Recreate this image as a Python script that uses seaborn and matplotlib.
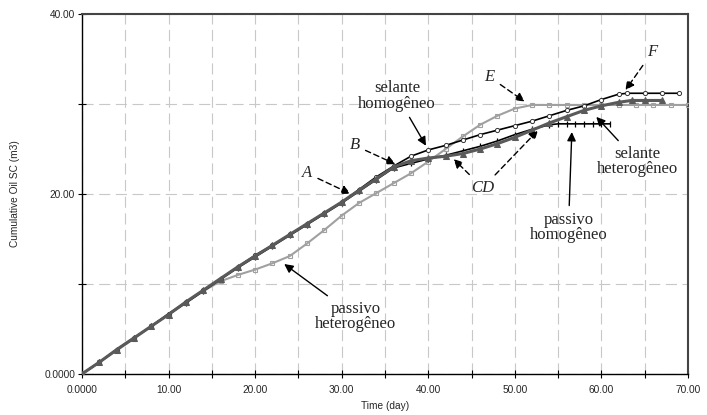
import matplotlib
matplotlib.use("Agg")
import matplotlib.pyplot as plt
import seaborn as sns

# values (day, cumulative oil m3)
days_f = [0, 2, 4, 6, 8, 10, 12, 14, 16, 18, 20, 22, 24, 26, 28, 30, 32, 34, 36, 38,
          40, 42, 44, 46, 48, 50, 52, 54, 56, 58, 60, 62, 63, 65, 67, 69]
oil_f = [0, 1.3, 2.7, 4.0, 5.3, 6.7, 8.0, 9.3, 10.6, 11.9, 13.2, 14.3, 15.5, 16.7, 17.9, 19.1,
         20.5, 21.9, 23.1, 24.2, 24.9, 25.4, 26.0, 26.6, 27.1, 27.6, 28.1, 28.7, 29.3, 29.8,
         30.5, 31.1, 31.2, 31.2, 31.2, 31.2]

days_tri = [0, 2, 4, 6, 8, 10, 12, 14, 16, 18, 20, 22, 24, 26, 28, 30, 32, 34, 36, 38,
            40, 42, 44, 46, 48, 50, 52, 54, 56, 58, 60, 62, 63.5, 65, 67]
oil_tri = [0, 1.3, 2.7, 4.0, 5.3, 6.6, 8.0, 9.3, 10.6, 11.9, 13.1, 14.3, 15.5, 16.7, 17.9, 19.1,
           20.4, 21.7, 23.0, 23.7, 24.0, 24.2, 24.5, 25.0, 25.6, 26.3, 27.1, 27.9, 28.6, 29.3,
           29.8, 30.2, 30.4, 30.4, 30.4]

days_tick = [0, 2, 4, 6, 8, 10, 12, 14, 16, 18, 20, 22, 24, 26, 28, 30, 32, 34, 36, 38,
             40, 42, 44, 46, 48, 50, 52, 54, 55, 56, 57, 58, 59, 60, 61]
oil_tick = [0, 1.3, 2.7, 4.0, 5.3, 6.6, 7.9, 9.2, 10.5, 11.8, 13.0, 14.2, 15.4, 16.6, 17.8, 19.0,
            20.3, 21.6, 22.9, 23.4, 23.9, 24.3, 24.8, 25.3, 25.9, 26.6, 27.2, 27.7, 27.8, 27.8,
            27.8, 27.8, 27.8, 27.8, 27.8]

days_sq = [0, 2, 4, 6, 8, 10, 12, 14, 16, 18, 20, 22, 24, 26, 28, 30, 32, 34, 36, 38,
           40, 42, 44, 46, 48, 50, 52, 54, 56, 58, 60, 62, 64, 66, 68, 70]
oil_sq = [0, 1.3, 2.6, 3.9, 5.3, 6.6, 7.9, 9.2, 10.3, 11.0, 11.6, 12.3, 13.1, 14.5, 16.0, 17.6,
          19.0, 20.1, 21.2, 22.3, 23.6, 25.0, 26.4, 27.7, 28.7, 29.5, 29.9, 29.9, 29.9, 29.9,
          29.9, 29.9, 29.9, 29.9, 29.9, 29.9]

x_ticks = [0, 10, 20, 30, 40, 50, 60, 70]
x_labels = ["0.0000", "10.00", "20.00", "30.00", "40.00", "50.00", "60.00", "70.00"]
y_ticks = [0, 20, 40]
y_labels = ["0.0000", "20.00", "40.00"]

sns.set_theme(style="white")
plt.rcParams["font.family"] = ["Liberation Sans", "DejaVu Sans"]

fig = plt.figure(figsize=(7.07, 4.15), dpi=100)
ax = fig.add_axes([0.116, 0.099, 0.857, 0.867])

# curves
sns.lineplot(x=days_sq, y=oil_sq, ax=ax, color="#a0a0a0", lw=1.5, marker="s", markersize=3,
             markerfacecolor="none", markeredgecolor="#a0a0a0", markeredgewidth=0.8, zorder=3)
sns.lineplot(x=days_tick, y=oil_tick, ax=ax, color="black", lw=1.2, marker="|", markersize=5,
             markeredgecolor="black", markeredgewidth=0.9, zorder=4)
sns.lineplot(x=days_f, y=oil_f, ax=ax, color="black", lw=1.2, marker="o", markersize=3,
             markerfacecolor="white", markeredgecolor="#333333", markeredgewidth=0.7, zorder=5)
sns.lineplot(x=days_tri, y=oil_tri, ax=ax, color="#5a5a5a", lw=2.2, marker="^", markersize=3.8,
             markerfacecolor="#5a5a5a", markeredgecolor="#5a5a5a", zorder=6)

ax.set_xlim(0, 70)
ax.set_ylim(0, 40)
ax.set_xticks(x_ticks)
ax.set_xticklabels(x_labels)
ax.set_xticks([5, 15, 25, 35, 45, 55, 65], minor=True)
ax.set_yticks(y_ticks)
ax.set_yticklabels(y_labels)
ax.set_yticks([10, 30], minor=True)
ax.tick_params(which="both", direction="inout", length=6, width=0.8, color="black",
               labelsize=7.3, pad=2, bottom=True, left=True)
ax.tick_params(axis="x", pad=5)

ax.grid(True, which="both", color="#c8c8c8", lw=0.8, dashes=(10, 5))
for side in ["left", "bottom"]:
    ax.spines[side].set_color("black")
    ax.spines[side].set_linewidth(1.0)
for side in ["top", "right"]:
    ax.spines[side].set_color("#444444")
    ax.spines[side].set_linewidth(1.5)

ax.set_xlabel("Time (day)", fontsize=7.3)
ax.set_ylabel("Cumulative Oil SC (m3)", fontsize=7.3)
ax.xaxis.set_label_coords(0.5, -0.075)
ax.yaxis.set_label_coords(-0.102, 0.5)

# annotations
serif = ["Liberation Serif", "DejaVu Serif"]
solid = dict(arrowstyle="-|>", color="black", lw=1.0, mutation_scale=13)
dashed = dict(arrowstyle="-|>", color="black", lw=1.0, mutation_scale=13, linestyle=(0, (4, 2.5)))

ax.annotate("selante\nhomogêneo", xy=(39.9, 25.1), xytext=(36.4, 30.9), ha="center", va="center",
            fontsize=12, family=serif, linespacing=0.95, arrowprops=solid, zorder=10)
ax.annotate("selante\nheterogêneo", xy=(59.2, 28.8), xytext=(64.2, 23.6), ha="center", va="center",
            fontsize=12, family=serif, linespacing=0.95, arrowprops=solid, zorder=10)
ax.annotate("passivo\nhomogêneo", xy=(56.6, 27.2), xytext=(56.2, 16.3), ha="center", va="center",
            fontsize=12, family=serif, linespacing=0.95, arrowprops=solid, zorder=10)
ax.annotate("passivo\nheterogêneo", xy=(23.1, 12.4), xytext=(31.6, 6.4), ha="center", va="center",
            fontsize=12, family=serif, linespacing=0.95, arrowprops=solid, zorder=10)

ax.annotate("A", xy=(31.3, 19.9), xytext=(26.0, 22.3), ha="center", va="center", fontsize=12,
            family=serif, style="italic", arrowprops=dashed, zorder=10)
ax.annotate("B", xy=(36.5, 23.2), xytext=(31.5, 25.4), ha="center", va="center", fontsize=12,
            family=serif, style="italic", arrowprops=dashed, zorder=10)
ax.annotate("CD", xy=(42.7, 24.1), xytext=(46.3, 20.7), ha="center", va="center", fontsize=12,
            family=serif, style="italic", arrowprops=dashed, zorder=10)
ax.annotate("", xy=(52.9, 27.3), xytext=(47.5, 21.9), arrowprops=dashed, zorder=10)
ax.annotate("E", xy=(51.4, 30.1), xytext=(47.1, 33.0), ha="center", va="center", fontsize=12,
            family=serif, style="italic", arrowprops=dashed, zorder=10)
ax.annotate("F", xy=(62.6, 31.3), xytext=(65.9, 35.8), ha="center", va="center", fontsize=12,
            family=serif, style="italic", arrowprops=dashed, zorder=10)

fig.savefig("out.png", dpi=100)
